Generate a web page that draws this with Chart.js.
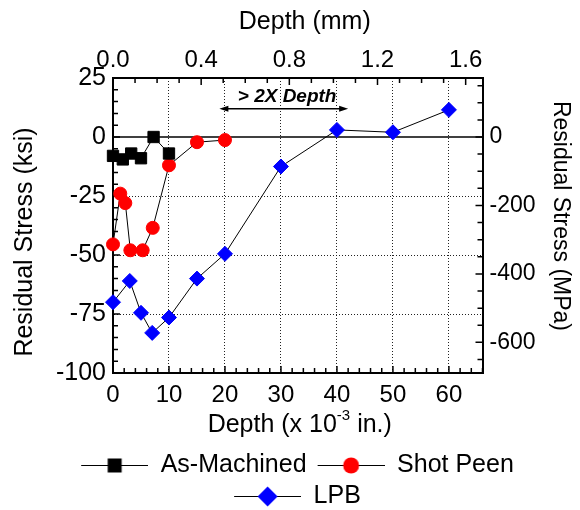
<!DOCTYPE html>
<html>
<head>
<meta charset="utf-8">
<script src="https://cdn.jsdelivr.net/npm/chart.js@4.4.1/dist/chart.umd.min.js"></script>
<style>
  html, body { margin: 0; padding: 0; background: #fff; }
  #wrap { width: 580px; height: 510px; position: relative; }
</style>
</head>
<body>
<div id="wrap"><canvas id="grafico"></canvas></div>
<script>
// depth in 10^-3 in., stress in ksi
const depthMachined = [0, 1.75, 3.25, 5, 7.25, 10];
const stressMachined = [-8, -9.5, -7, -9, 0, -7];

const depthShotPeen = [0, 1.3, 2.2, 3.1, 5.3, 7.1, 10, 15, 20];
const stressShotPeen = [-45.5, -24, -28, -48, -48, -38.5, -12, -2.2, -1.3];

const depthLpb = [0, 3, 5, 7, 10, 15, 20, 30, 40, 50, 60];
const stressLpb = [-70, -61, -74.5, -83, -76.5, -60, -49.5, -12.5, 3, 2, 11.5];

const seriesNames = ['As-Machined', 'Shot Peen', 'LPB'];

const ticksInch = [0, 10, 20, 30, 40, 50, 60];
const ticksMm = [0.0, 0.4, 0.8, 1.2, 1.6];
const ticksKsi = [25, 0, -25, -50, -75, -100];
const ticksMpa = [0, -200, -400, -600];

const KSI_TO_MPA = 6.89476;
const MILS_TO_MM = 0.0254;
const X_MAX = 66;
const Y_MIN = -100, Y_MAX = 25;

const FONT = "'Liberation Sans', Arial, Helvetica, sans-serif";

function pontos(xs, ys) {
    return xs.map((x, i) => ({ x: x, y: ys[i] }));
}

// legend symbol: short line with the marker in the middle
function iconeLegenda(forma, cor) {
    const c = document.createElement('canvas');
    c.width = 72; c.height = 24;
    const g = c.getContext('2d');
    g.strokeStyle = '#000';
    g.lineWidth = 1;
    g.beginPath(); g.moveTo(5, 12.5); g.lineTo(72, 12.5); g.stroke();
    g.fillStyle = cor;
    const cx = 38.5, cy = 12.5;
    g.beginPath();
    if (forma === 'rect') g.rect(cx - 7, cy - 7, 14, 14);
    else if (forma === 'circle') g.arc(cx, cy, 8, 0, Math.PI * 2);
    else { g.moveTo(cx - 10, cy); g.lineTo(cx, cy - 10); g.lineTo(cx + 10, cy); g.lineTo(cx, cy + 10); g.closePath(); }
    g.fill();
    return c;
}
const icones = [iconeLegenda('rect', '#000'), iconeLegenda('circle', '#ff0000'), iconeLegenda('rectRot', '#0000ff')];

function fixarTicks(lista) {
    return scale => { scale.ticks = lista.map(v => ({ value: v })); };
}

// -------------------------------------------------------------------
const decorPlugin = {
    id: 'decor',
    beforeDatasetsDraw(chart) {
        const { ctx, chartArea: a, scales } = chart;
        ctx.save();
        ctx.strokeStyle = '#000';

        // zero line
        const y0 = scales.y.getPixelForValue(0);
        ctx.lineWidth = 1.5;
        ctx.beginPath(); ctx.moveTo(a.left, y0); ctx.lineTo(a.right, y0); ctx.stroke();

        // inward tick marks
        ctx.lineWidth = 1.5;
        ctx.beginPath();
        for (let v = 0; v <= X_MAX; v += 2) {
            const px = scales.x.getPixelForValue(v);
            const len = v % 10 === 0 ? 7 : 5;
            ctx.moveTo(px, a.bottom); ctx.lineTo(px, a.bottom - len);
        }
        for (let k = 0; k * 0.1 <= X_MAX * MILS_TO_MM; k++) {
            const px = scales.x2.getPixelForValue(k * 0.1);
            const len = k % 4 === 0 ? 7 : 5;
            ctx.moveTo(px, a.top); ctx.lineTo(px, a.top + len);
        }
        for (let v = Y_MIN; v <= Y_MAX; v += 5) {
            const py = scales.y.getPixelForValue(v);
            const len = v % 25 === 0 ? 7 : 5;
            ctx.moveTo(a.left, py); ctx.lineTo(a.left + len, py);
        }
        for (let v = -650; v <= Y_MAX * KSI_TO_MPA; v += 50) {
            const py = scales.y2.getPixelForValue(v);
            const len = v % 200 === 0 ? 7 : 5;
            ctx.moveTo(a.right, py); ctx.lineTo(a.right - len, py);
        }
        ctx.stroke();
        ctx.restore();
    },
    afterDraw(chart) {
        const { ctx, chartArea: a, scales } = chart;
        ctx.save();
        ctx.fillStyle = '#000';
        ctx.strokeStyle = '#000';
        ctx.textBaseline = 'middle';

        // "> 2X Depth" annotation
        const xa = scales.x.getPixelForValue(19);
        const xb = scales.x.getPixelForValue(42);
        const ya = scales.y.getPixelForValue(12);
        ctx.lineWidth = 1.5;
        ctx.beginPath(); ctx.moveTo(xa + 4, ya); ctx.lineTo(xb - 4, ya); ctx.stroke();
        ctx.beginPath();
        ctx.moveTo(xa, ya); ctx.lineTo(xa + 9, ya - 3); ctx.lineTo(xa + 9, ya + 3); ctx.closePath();
        ctx.moveTo(xb, ya); ctx.lineTo(xb - 9, ya - 3); ctx.lineTo(xb - 9, ya + 3); ctx.closePath();
        ctx.fill();
        ctx.font = 'italic bold 19px ' + FONT;
        ctx.textAlign = 'center';
        ctx.fillText('> 2X Depth', scales.x.getPixelForValue(31.1), scales.y.getPixelForValue(17));

        // axis titles
        const cx = (a.left + a.right) / 2;
        ctx.font = '25px ' + FONT;
        ctx.fillText('Depth (mm)', cx + 7, 22);

        const p1 = 'Depth (x 10', sup = '-3', p2 = ' in.)';
        ctx.font = '25px ' + FONT;
        const w1 = ctx.measureText(p1).width, w3 = ctx.measureText(p2).width;
        ctx.font = '15px ' + FONT;
        const w2 = ctx.measureText(sup).width;
        let x = cx + 2 - (w1 + w2 + w3) / 2;
        const yb = a.bottom + 52;
        ctx.textAlign = 'left';
        ctx.font = '25px ' + FONT;
        ctx.fillText(p1, x, yb);
        ctx.font = '15px ' + FONT;
        ctx.fillText(sup, x + w1, yb - 9);
        ctx.font = '25px ' + FONT;
        ctx.fillText(p2, x + w1 + w2, yb);

        ctx.textAlign = 'center';
        ctx.save();
        ctx.translate(25, 242);
        ctx.rotate(-Math.PI / 2);
        ctx.font = '25px ' + FONT;
        ctx.fillText('Residual Stress (ksi)', 0, 0);
        ctx.restore();

        ctx.save();
        ctx.translate(560, 216);
        ctx.rotate(Math.PI / 2);
        ctx.font = '23px ' + FONT;
        ctx.fillText('Residual Stress (MPa)', 0, 0);
        ctx.restore();

        ctx.restore();
    }
};

// -------------------------------------------------------------------
const divGrafico = document.getElementById('grafico').getContext('2d');

const grafico = new Chart(divGrafico, {
    type: 'line',
    data: {
        datasets: [
            {
                label: seriesNames[0],
                data: pontos(depthMachined, stressMachined),
                borderColor: '#000',
                borderWidth: 1,
                pointStyle: 'rect',
                pointRadius: 8,
                pointBackgroundColor: '#000',
                pointBorderColor: '#000',
                pointBorderWidth: 1,
                clip: false,
            },
            {
                label: seriesNames[1],
                data: pontos(depthShotPeen, stressShotPeen),
                borderColor: '#000',
                borderWidth: 1,
                pointStyle: 'circle',
                pointRadius: 6.5,
                pointBackgroundColor: '#ff0000',
                pointBorderColor: '#ff0000',
                pointBorderWidth: 1,
                clip: false,
            },
            {
                label: seriesNames[2],
                data: pontos(depthLpb, stressLpb),
                borderColor: '#000',
                borderWidth: 1,
                pointStyle: 'rectRot',
                pointRadius: 7.5,
                pointBackgroundColor: '#0000ff',
                pointBorderColor: '#0000ff',
                pointBorderWidth: 1,
                clip: false,
            }
        ]
    },
    options: {
        maintainAspectRatio: false,
        animation: false,
        events: [],
        layout: { padding: { left: 10, right: 0, top: 0, bottom: -8.5 } },
        plugins: {
            tooltip: { enabled: false },
            legend: {
                position: 'bottom',
                labels: {
                    usePointStyle: true,
                    pointStyleWidth: 72,
                    padding: 6,
                    color: '#000',
                    font: { family: FONT, size: 25 },
                    generateLabels(chart) {
                        const itens = Chart.defaults.plugins.legend.labels.generateLabels(chart);
                        itens.forEach((it, i) => { it.pointStyle = icones[i]; });
                        return itens;
                    }
                }
            }
        },
        scales: {
            x: {
                type: 'linear',
                position: 'bottom',
                min: 0,
                max: X_MAX,
                afterBuildTicks: fixarTicks(ticksInch),
                afterFit(scale) { scale.height = 73.5; },
                ticks: { color: '#000', font: { family: FONT, size: 24 }, padding: 8, maxRotation: 0, autoSkip: false },
                grid: { color: c => (c.tick && c.tick.value === 0) ? 'rgba(0,0,0,0)' : '#222', lineWidth: 1, drawTicks: false },
                border: { color: '#000', width: 2, dash: [1, 2] },
            },
            x2: {
                type: 'linear',
                position: 'top',
                min: 0,
                max: X_MAX * MILS_TO_MM,
                afterBuildTicks: fixarTicks(ticksMm),
                afterFit(scale) { scale.height = 78; },
                ticks: { color: '#000', font: { family: FONT, size: 24 }, padding: 3, maxRotation: 0, autoSkip: false, callback: v => v.toFixed(1) },
                grid: { drawOnChartArea: false, drawTicks: false },
                border: { color: '#000', width: 2 },
            },
            y: {
                type: 'linear',
                position: 'left',
                min: Y_MIN,
                max: Y_MAX,
                afterBuildTicks: fixarTicks(ticksKsi),
                afterFit(scale) { scale.width = 103; },
                ticks: { color: '#000', font: { family: FONT, size: 25 }, padding: 7, autoSkip: false },
                grid: { color: c => (c.tick && [25, 0, -100].includes(c.tick.value)) ? 'rgba(0,0,0,0)' : '#222', lineWidth: 1, drawTicks: false },
                border: { color: '#000', width: 2, dash: [1, 2] },
            },
            y2: {
                type: 'linear',
                position: 'right',
                min: Y_MIN * KSI_TO_MPA,
                max: Y_MAX * KSI_TO_MPA,
                afterBuildTicks: fixarTicks(ticksMpa),
                afterFit(scale) { scale.width = 97.5; },
                ticks: { color: '#000', font: { family: FONT, size: 23 }, padding: 7, autoSkip: false },
                grid: { drawOnChartArea: false, drawTicks: false },
                border: { color: '#000', width: 2 },
            }
        }
    },
    plugins: [decorPlugin]
});
</script>
</body>
</html>
